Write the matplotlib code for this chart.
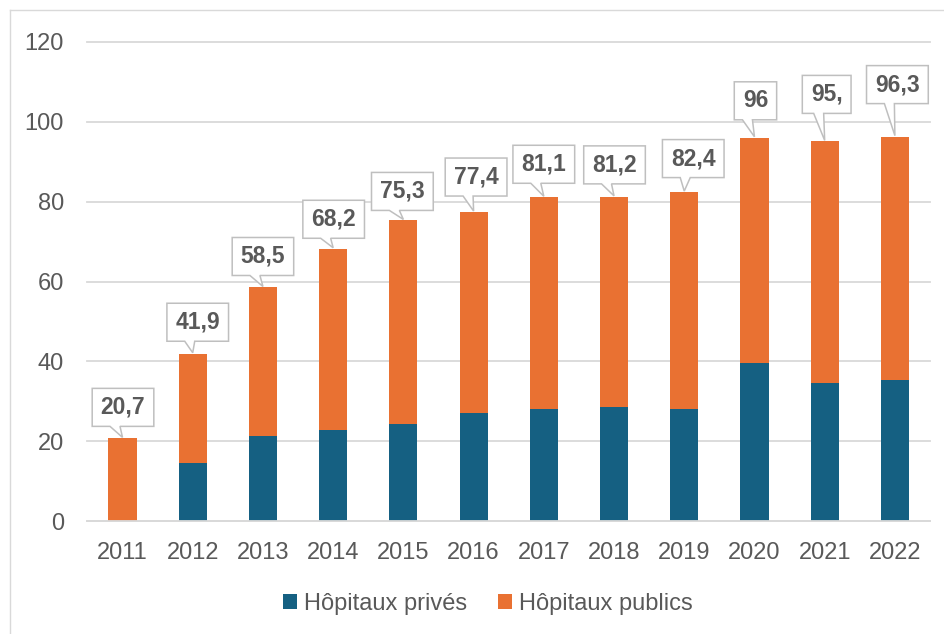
import matplotlib
matplotlib.use("Agg")
import matplotlib.pyplot as plt
import numpy as np
from matplotlib.patches import Patch, Polygon
from matplotlib.transforms import IdentityTransform
from matplotlib.lines import Line2D

# ---- data ----
years = ["2011", "2012", "2013", "2014", "2015", "2016", "2017", "2018",
         "2019", "2020", "2021", "2022"]
prives = [0, 14.5, 21.3, 22.8, 24.3, 27.0, 28.0, 28.5, 28.0, 39.6, 34.6, 35.3]
totals = [20.7, 41.9, 58.5, 68.2, 75.3, 77.4, 81.1, 81.2, 82.4, 96.0, 95.1, 96.3]
total_labels = ["20,7", "41,9", "58,5", "68,2", "75,3", "77,4", "81,1", "81,2",
                "82,4", "96", "95,", "96,3"]
publics = [t - p for t, p in zip(totals, prives)]
yticks = [0, 20, 40, 60, 80, 100, 120]

# label placement (pixel offsets of box centre from bar top)
lab_dx = [0.5, 5, 0, 0.5, -1, 2.5, 0, 0.5, 9, 1, 2, 2.5]
lab_dy = [31, 31.5, 31, 29.5, 29, 35, 33, 32, 33.5, 37, 47, 52]

BLUE = "#156082"
ORANGE = "#E97132"
GREY_TXT = "#595959"
GRID = "#D9D9D9"

plt.rcParams['font.family'] = ['Liberation Sans', 'DejaVu Sans']

W, H = 944, 634
fig = plt.figure(figsize=(W / 100, H / 100), dpi=100)
ax_left, ax_right, ax_top, ax_bot = 87.4, 930.0, 42.0, 521.0
ax = fig.add_axes([ax_left / W, (H - ax_bot) / H, (ax_right - ax_left) / W,
                   (ax_bot - ax_top) / H])

x = np.arange(len(years))
bw = 0.4
ax.bar(x, prives, width=bw, color=BLUE, edgecolor="none", zorder=2)
ax.bar(x, publics, width=bw, bottom=prives, color=ORANGE, edgecolor="none", zorder=2)

ax.set_xlim(-0.5, len(years) - 0.5)
ax.set_ylim(0, 120)
ax.set_yticks(yticks)
ax.set_yticklabels([str(v) for v in yticks])
ax.set_xticks(x)
ax.set_xticklabels(years)
ax.tick_params(axis="both", length=0, labelsize=17, labelcolor=GREY_TXT)
ax.tick_params(axis="y", pad=17)
ax.tick_params(axis="x", pad=15)
for s in ["top", "right", "left"]:
    ax.spines[s].set_visible(False)
ax.spines["bottom"].set_color(GRID)
ax.spines["bottom"].set_linewidth(1.3)
ax.yaxis.grid(True, color=GRID, linewidth=1.3, zorder=0)
ax.set_axisbelow(True)
for gl in ax.get_ygridlines():
    gl.set_clip_on(False)

# ---- callouts ----
renderer = fig.canvas.get_renderer()
ident = IdentityTransform()
box_h = 38
for i, (t, lab) in enumerate(zip(totals, total_labels)):
    tx, ty = ax.transData.transform((x[i], t))
    bx = tx + lab_dx[i]
    by = ty + lab_dy[i]
    txt = ax.text(bx, by, lab, transform=ident, ha="center", va="center",
                  fontsize=16.5, fontweight="bold", color=GREY_TXT, zorder=8,
                  clip_on=False)
    bb = txt.get_window_extent(renderer)
    bw_px = bb.width + 17
    L, R = bx - bw_px / 2, bx + bw_px / 2
    T, B = by + box_h / 2, by - box_h / 2
    pl, pr = bx - 13, bx - 3
    verts = [(L, T), (R, T), (R, B), (pr, B), (tx, ty + 1), (pl, B), (L, B)]
    poly = Polygon(verts, closed=True, transform=ident, facecolor="white",
                   edgecolor="#BFBFBF", linewidth=1.1, zorder=7, clip_on=False)
    ax.add_artist(poly)

# ---- legend ----
handles = [Patch(facecolor=BLUE, edgecolor="none", label="Hôpitaux privés"),
           Patch(facecolor=ORANGE, edgecolor="none", label="Hôpitaux publics")]
leg = fig.legend(handles=handles, loc="center", bbox_to_anchor=(488 / W, 1 - 604 / H),
                 ncol=2, frameon=False, fontsize=17, handlelength=0.6,
                 handleheight=0.6, handletextpad=0.3, columnspacing=1.3)
for t in leg.get_texts():
    t.set_color(GREY_TXT)

# ---- outer border ----
fig.add_artist(Line2D([9.5, 9.5], [0, H - 10], transform=ident, color=GRID, lw=1))
fig.add_artist(Line2D([9.5, W], [H - 10, H - 10], transform=ident, color=GRID, lw=1))

fig.savefig("out.png", dpi=100)
